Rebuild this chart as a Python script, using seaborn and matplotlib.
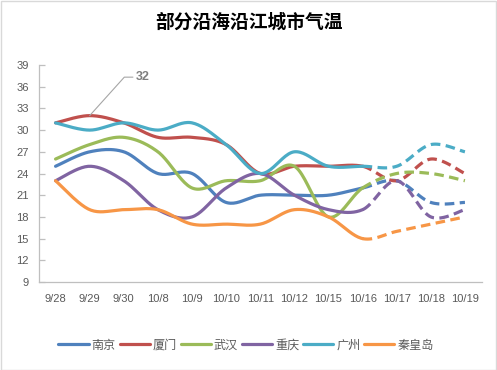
import numpy as np
import pandas as pd
import matplotlib
matplotlib.use("Agg")
import matplotlib.pyplot as plt
from matplotlib.lines import Line2D
from matplotlib.patches import Rectangle
import seaborn as sns

# ---------------- data ----------------
dates = ["9/28", "9/29", "9/30", "10/8", "10/9", "10/10", "10/11",
         "10/12", "10/15", "10/16", "10/17", "10/18", "10/19"]
nanjing   = [25, 27, 27, 24, 24, 20, 21, 21, 21, 22, 23, 20, 20]
xiamen    = [31, 32, 31, 29, 29, 28, 24, 25, 25, 25, 23, 26, 24]
wuhan     = [26, 28, 29, 27, 22, 23, 23, 25, 18, 22, 24, 24, 23]
chongqing = [23, 25, 23, 19, 18, 22, 24, 21, 19, 19, 23, 18, 19]
guangzhou = [31, 30, 31, 30, 31, 28, 24, 27, 25, 25, 25, 28, 27]
qhd       = [23, 19, 19, 19, 17, 17, 17, 19, 18, 15, 16, 17, 18]
city_names = ["南京", "厦门", "武汉", "重庆", "广州", "秦皇岛"]
series = [nanjing, xiamen, wuhan, chongqing, guangzhou, qhd]
colors = ["#4F81BD", "#C0504D", "#9BBB59", "#8064A2", "#4BACC6", "#F79646"]
forecast_from = "10/16"   # dashed from this date on
title = "部分沿海沿江城市气温"
label_city, label_date = "厦门", "9/29"

# ---------------- style ----------------
sns.set_theme(style="white")
plt.rcParams["font.family"] = ["Noto Sans CJK SC", "DejaVu Sans"]

fig = plt.figure(figsize=(4.97, 3.70), dpi=100)
ax = fig.add_axes([38.5 / 497, 88 / 370, (482 - 38.5) / 497, (282 - 65) / 370])

def smooth(xv, yv, n=24):
    """Excel-like smoothed curve (cubic Bezier / Catmull-Rom) per segment."""
    P = np.column_stack([xv, yv]).astype(float)
    segs = []
    for i in range(len(P) - 1):
        p0 = P[i - 1] if i > 0 else P[i]
        p1, p2 = P[i], P[i + 1]
        p3 = P[i + 2] if i + 2 < len(P) else P[i + 1]
        c1 = p1 + (p2 - p0) / 6.0
        c2 = p2 - (p3 - p1) / 6.0
        t = np.linspace(0, 1, n)[:, None]
        b = ((1 - t) ** 3) * p1 + 3 * ((1 - t) ** 2) * t * c1 + 3 * (1 - t) * t ** 2 * c2 + t ** 3 * p2
        segs.append(b)
    return segs

xpos = np.arange(len(dates))
split = dates.index(forecast_from)
lw = 2.3
for vals, col in zip(series, colors):
    segs = smooth(xpos, vals)
    solid = np.vstack(segs[:split])
    dashed = np.vstack(segs[split:])
    sns.lineplot(x=solid[:, 0], y=solid[:, 1], sort=False, estimator=None,
                 color=col, lw=lw, ax=ax, solid_capstyle="round")
    sns.lineplot(x=dashed[:, 0], y=dashed[:, 1], sort=False, estimator=None,
                 color=col, lw=lw, ax=ax, linestyle=(0, (3.0, 1.7)),
                 dash_capstyle="butt")

ax.set_xlim(-0.5, len(dates) - 0.5)
ax.set_ylim(9, 39)
ax.set_yticks(np.arange(9, 40, 3))
ax.set_xticks(xpos)
ax.set_xticklabels(dates)
for s in ["top", "right"]:
    ax.spines[s].set_visible(False)
for s in ["left", "bottom"]:
    ax.spines[s].set_color("#BFBFBF")
    ax.spines[s].set_linewidth(0.9)
ax.tick_params(axis="y", direction="in", length=4, width=0.9, color="#BFBFBF",
               left=True, pad=7, labelsize=8, labelcolor="#595959")
ax.tick_params(axis="x", length=0, pad=9, labelsize=8, labelcolor="#595959")
for t in ax.get_xticklabels() + ax.get_yticklabels():
    t.set_fontfamily(["Liberation Sans", "DejaVu Sans"])
ax.set_xlabel("")
ax.set_ylabel("")

# data label
ci = city_names.index(label_city)
di = dates.index(label_date)
yv = series[ci][di]
ax.annotate(str(yv), xy=(di, yv), xytext=(38.5, 27.7), textcoords="offset points",
            ha="center", va="center", fontsize=9, fontweight="bold", color="#7F7F7F",
            fontfamily=["Liberation Sans", "DejaVu Sans"],
            arrowprops=dict(arrowstyle="-", color="#A6A6A6", lw=0.8,
                            shrinkA=0, shrinkB=0,
                            connectionstyle="angle,angleA=0,angleB=48,rad=0"))

fig.text(0.5, 1 - 22 / 370, title, ha="center", va="center",
         fontsize=13.5, fontweight="bold", color="#000000")

handles = [Line2D([], [], color=c, lw=lw, solid_capstyle="round") for c in colors]
fig.legend(handles, city_names, loc="center", bbox_to_anchor=(0.495, 1 - 345 / 370),
           ncol=6, frameon=False, fontsize=8.7, handlelength=2.5, handletextpad=0.25,
           columnspacing=0.3, labelcolor="#595959")

fig.add_artist(Rectangle((0.5 / 497, 0.5 / 370), 1 - 1.5 / 497, 1 - 1.5 / 370,
                         transform=fig.transFigure, fill=False,
                         edgecolor="#D9D9D9", lw=1))

fig.savefig("out.png", dpi=100)
